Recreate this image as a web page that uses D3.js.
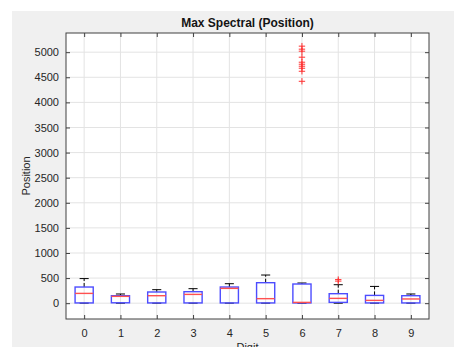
<!DOCTYPE html>
<html>
<head>
<meta charset="utf-8">
<script src="https://cdn.jsdelivr.net/npm/d3@7"></script>
<style>
  html, body { margin: 0; padding: 0; background: #ffffff; }
  svg { display: block; }
  text { font-family: "Liberation Sans", Arial, Helvetica, sans-serif; }
</style>
</head>
<body>
<svg id="chart" width="454" height="347"></svg>
<script>
// Box statistics per digit (Position values)
const digits      = ["0", "1", "2", "3", "4", "5", "6", "7", "8", "9"];
const whiskerLow  = [0, 0, 0, 0, 0, 0, 0, 0, 0, 0];
const q1          = [5, 8, 5, 5, 5, 5, 5, 16, 5, 5];
const medians     = [195, 136, 149, 175, 295, 90, 16, 96, 56, 84];
const q3          = [322, 149, 223, 229, 322, 408, 382, 189, 155, 149];
const whiskerHigh = [490, 183, 269, 289, 388, 561, 402, 368, 334, 183];
// Outliers: [digit index, value]
const outlierDigit = [6, 6, 6, 6, 6, 6, 6, 6, 6, 6, 7, 7];
const outlierValue = [5120, 5060, 5020, 4900, 4800, 4760, 4720, 4680, 4620, 4420, 470, 440];
const yTicks = [0, 500, 1000, 1500, 2000, 2500, 3000, 3500, 4000, 4500, 5000];

const svg = d3.select("#chart");
const W = 454, H = 347;
const plot = { left: 66, right: 429, top: 33, bottom: 319 };

// figure background
svg.append("rect").attr("x", 12).attr("y", 11).attr("width", W - 12).attr("height", H - 11)
  .attr("fill", "#f0f0f0");

const x = d3.scaleLinear().domain([0.5, digits.length + 0.5]).range([plot.left, plot.right]);
const y = d3.scaleLinear().domain([-315, 5382]).range([plot.bottom, plot.top]);

const g = svg.append("g");

// axes area
g.append("rect").attr("x", plot.left).attr("y", plot.top)
  .attr("width", plot.right - plot.left).attr("height", plot.bottom - plot.top)
  .attr("fill", "#ffffff");

// grid lines
const grid = g.append("g").attr("stroke", "#e3e3e3").attr("stroke-width", 1);
digits.forEach((d, i) => {
  grid.append("line").attr("x1", x(i + 1)).attr("x2", x(i + 1))
    .attr("y1", plot.top).attr("y2", plot.bottom);
});
yTicks.forEach(t => {
  grid.append("line").attr("x1", plot.left).attr("x2", plot.right)
    .attr("y1", y(t)).attr("y2", y(t));
});

// axes with inward ticks
const tickLen = 4;
const xAxis = d3.axisBottom(x).tickValues(digits.map((d, i) => i + 1))
  .tickFormat((d) => digits[d - 1]).tickSizeInner(-tickLen).tickSizeOuter(0).tickPadding(10);
const yAxis = d3.axisLeft(y).tickValues(yTicks).tickFormat(d3.format("d"))
  .tickSizeInner(-tickLen).tickSizeOuter(0).tickPadding(7);
const xTop = d3.axisTop(x).tickValues(digits.map((d, i) => i + 1))
  .tickFormat("").tickSizeInner(-tickLen).tickSizeOuter(0);
const yRight = d3.axisRight(y).tickValues(yTicks).tickFormat("").tickSizeInner(-tickLen).tickSizeOuter(0);

function styleAxis(sel) {
  sel.select(".domain").remove();
  sel.selectAll("line").attr("stroke", "#404040");
  sel.selectAll("text").attr("fill", "#262626").attr("font-size", "11px");
}
g.append("g").attr("transform", `translate(0,${plot.bottom})`).call(xAxis).call(styleAxis);
g.append("g").attr("transform", `translate(${plot.left},0)`).call(yAxis).call(styleAxis);
g.append("g").attr("transform", `translate(0,${plot.top})`).call(xTop).call(styleAxis);
g.append("g").attr("transform", `translate(${plot.right},0)`).call(yRight).call(styleAxis);

// axes box
g.append("rect").attr("x", plot.left).attr("y", plot.top)
  .attr("width", plot.right - plot.left).attr("height", plot.bottom - plot.top)
  .attr("fill", "none").attr("stroke", "#404040").attr("stroke-width", 1);

// boxes
const boxW = 0.5, capW = 0.25;
const boxes = g.append("g");
digits.forEach((d, i) => {
  const c = i + 1;
  const bg = boxes.append("g");
  // whisker stems
  bg.append("line").attr("x1", x(c)).attr("x2", x(c)).attr("y1", y(q3[i])).attr("y2", y(whiskerHigh[i]))
    .attr("stroke", "#000").attr("stroke-width", 1).attr("stroke-dasharray", "4,2");
  bg.append("line").attr("x1", x(c)).attr("x2", x(c)).attr("y1", y(q1[i])).attr("y2", y(whiskerLow[i]))
    .attr("stroke", "#000").attr("stroke-width", 1).attr("stroke-dasharray", "4,2");
  // caps
  [whiskerHigh[i], whiskerLow[i]].forEach(v => {
    bg.append("line").attr("x1", x(c - capW / 2)).attr("x2", x(c + capW / 2))
      .attr("y1", y(v)).attr("y2", y(v)).attr("stroke", "#000").attr("stroke-width", 1);
  });
  // box
  bg.append("rect").attr("x", x(c - boxW / 2)).attr("y", y(q3[i]))
    .attr("width", x(c + boxW / 2) - x(c - boxW / 2)).attr("height", y(q1[i]) - y(q3[i]))
    .attr("fill", "none").attr("stroke", "#4d4dff").attr("stroke-width", 1.4);
  // median
  bg.append("line").attr("x1", x(c - boxW / 2)).attr("x2", x(c + boxW / 2))
    .attr("y1", y(medians[i])).attr("y2", y(medians[i]))
    .attr("stroke", "#ff5050").attr("stroke-width", 1.4);
});

// outliers as red plus markers
const ps = 3.2;
outlierValue.forEach((v, k) => {
  const cx = x(outlierDigit[k] + 1), cy = y(v);
  g.append("path").attr("d", `M${cx - ps},${cy}H${cx + ps}M${cx},${cy - ps}V${cy + ps}`)
    .attr("stroke", "#ff3030").attr("stroke-width", 1).attr("fill", "none");
});

// labels
svg.append("text").attr("x", (plot.left + plot.right) / 2).attr("y", 27)
  .attr("text-anchor", "middle").attr("font-size", "12px").attr("font-weight", "bold")
  .attr("fill", "#141414").text("Max Spectral (Position)");
svg.append("text").attr("transform", `translate(30,${(plot.top + plot.bottom) / 2}) rotate(-90)`)
  .attr("text-anchor", "middle").attr("font-size", "11px").attr("fill", "#262626").text("Position");
svg.append("text").attr("x", (plot.left + plot.right) / 2).attr("y", 351)
  .attr("text-anchor", "middle").attr("font-size", "11px").attr("fill", "#262626").text("Digit");
</script>
</body>
</html>
